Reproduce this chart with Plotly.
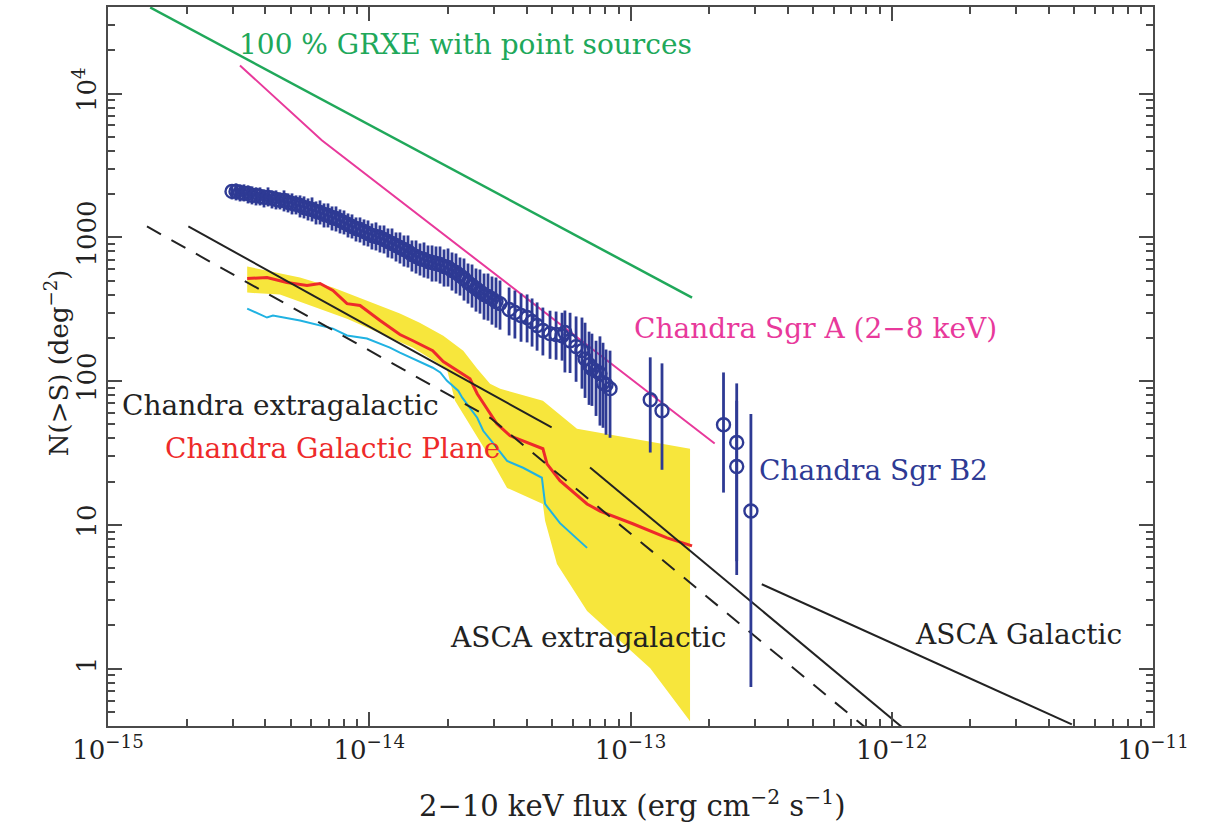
import math
import plotly.graph_objects as go

FONT = "DejaVu Serif"

# ---------------- data ----------------
# Chandra Sgr B2 logN-logS points with errors
sgrb2_x = [2.983e-15, 3.090e-15, 3.201e-15, 3.316e-15, 3.435e-15, 3.558e-15, 3.686e-15, 3.818e-15,
           3.955e-15, 4.097e-15, 4.244e-15, 4.396e-15, 4.554e-15, 4.717e-15, 4.887e-15, 5.062e-15,
           5.244e-15, 5.432e-15, 5.627e-15, 5.829e-15, 6.038e-15, 6.255e-15, 6.479e-15, 6.712e-15,
           6.952e-15, 7.202e-15, 7.460e-15, 7.728e-15, 8.005e-15, 8.292e-15, 8.590e-15, 8.898e-15,
           9.217e-15, 9.548e-15, 9.890e-15, 1.024e-14, 1.061e-14, 1.099e-14, 1.139e-14, 1.179e-14,
           1.222e-14, 1.266e-14, 1.311e-14, 1.358e-14, 1.407e-14, 1.457e-14, 1.510e-14, 1.564e-14,
           1.620e-14, 1.678e-14, 1.739e-14, 1.801e-14, 1.866e-14, 1.933e-14, 2.002e-14, 2.074e-14,
           2.148e-14, 2.225e-14, 2.305e-14, 2.388e-14, 2.474e-14, 2.562e-14, 2.654e-14, 2.750e-14,
           2.848e-14, 2.950e-14, 3.056e-14, 3.166e-14,
           3.43e-14, 3.61e-14, 3.81e-14, 4.02e-14, 4.20e-14, 4.39e-14, 4.62e-14, 4.92e-14,
           5.19e-14, 5.47e-14,
           5.61e-14, 5.87e-14, 6.19e-14, 6.52e-14, 6.70e-14, 6.94e-14, 7.12e-14, 7.38e-14,
           7.64e-14, 7.85e-14, 8.06e-14, 8.35e-14,
           1.19e-13, 1.32e-13, 2.27e-13, 2.55e-13, 2.55e-13, 2.89e-13]
sgrb2_y = [2088, 2088, 2055, 2022, 2022, 1958, 1958, 1927,
           1896, 1896, 1866, 1836, 1807, 1807, 1750, 1722,
           1695, 1668, 1615, 1589, 1564, 1515, 1491, 1444,
           1421, 1376, 1354, 1311, 1270, 1230, 1191, 1153,
           1135, 1099, 1065, 1031, 1015, 998.6, 967.1, 936.6,
           907.0, 878.4, 850.7, 823.8, 797.8, 760.3, 736.3, 713.1,
           701.7, 679.6, 668.8, 658.1, 647.6, 627.2, 617.2, 588.2,
           569.6, 542.8, 517.3, 485.2, 462.4, 440.7, 419.9, 400.2,
           387.6, 375.3, 357.7, 346.4,
           315, 300, 286, 277, 260, 244, 225, 214,
           211, 207,
           218, 191, 174, 163, 143, 130, 122, 118,
           113, 97.6, 94.5, 88.7,
           74.3, 62.3, 49.8, 37.5, 25.5, 12.5]
sgrb2_hi = [2336, 2374, 2336, 2336, 2299, 2262, 2226, 2226,
            2156, 2226, 2122, 2122, 2055, 2122, 2022, 2022,
            1958, 1958, 1927, 1866, 1896, 1778, 1807, 1722,
            1722, 1641, 1641, 1564, 1539, 1467, 1444, 1376,
            1376, 1333, 1311, 1250, 1270, 1210, 1210, 1153,
            1153, 1082, 1082, 1031, 1031, 951.7, 951.7, 907.0,
            921.7, 878.4, 878.4, 864.4, 864.4, 823.8, 837.1, 785.1,
            772.6, 724.6, 713.1, 658.1, 647.6, 607.4, 597.7, 560.5,
            560.5, 534.2, 525.7, 501.0,
            448, 427, 407, 401, 376, 353, 325, 309,
            305, 299,
            310, 299, 282, 277, 255, 221, 214, 191,
            205, 185, 166, 163,
            146.5, 133, 115, 96.5, 73.1, 59.1]
sgrb2_lo = [1836, 1807, 1778, 1778, 1722, 1695, 1668, 1668,
            1615, 1641, 1589, 1564, 1564, 1515, 1491, 1444,
            1444, 1376, 1354, 1311, 1290, 1230, 1230, 1172,
            1172, 1117, 1099, 1065, 1048, 998.6, 982.7, 936.6,
            921.7, 878.4, 864.4, 823.8, 810.7, 785.1, 772.6, 724.6,
            713.1, 679.6, 658.1, 627.2, 617.2, 578.8, 560.5, 542.8,
            525.7, 517.3, 493.0, 493.0, 477.4, 455.0, 455.0, 426.7,
            406.7, 393.8, 363.5, 346.4, 324.9, 304.7, 295.0, 268.0,
            263.7, 247.3, 235.7, 228.2,
            208, 198, 188, 186, 174, 163, 151, 143,
            141, 139,
            115, 114, 99, 88.7, 76.5, 68.4, 67.3, 57.3,
            49.1, 47.4, 42.4, 40.4,
            31.9, 24.2, 16.8, 4.49, 5.6, 0.746]

# 100 % GRXE with point sources
grxe_x = [1.45e-15, 1.72e-13]
grxe_y = [39700, 381]

# Chandra Sgr A (2-8 keV)
sgra_x = [3.2e-15, 6.58e-15, 2.1e-13]
sgra_y = [15700, 4730, 36.9]

# Chandra extragalactic (dashed, broken power law)
cxgal_x = [1.41e-15, 2.92e-14, 7.87e-13]
cxgal_y = [1191, 55.2, 0.395]

# solid extragalactic lines
xgal1_x = [2.03e-15, 4.99e-14]
xgal1_y = [1191, 47.7]
ascax_x = [7.0e-14, 1.09e-12]
ascax_y = [25.1, 0.395]

# ASCA Galactic
ascag_x = [3.18e-13, 4.89e-12]
ascag_y = [3.87, 0.41]

# Chandra Galactic Plane (red)
gp_x = [3.41e-15, 4.06e-15, 4.84e-15, 5.78e-15, 6.48e-15, 7.26e-15, 8.22e-15, 9.22e-15,
        1.10e-14, 1.31e-14, 1.47e-14, 1.75e-14, 1.92e-14, 2.43e-14, 2.59e-14, 3.08e-14,
        3.46e-14, 4.12e-14, 4.62e-14, 4.79e-14, 5.37e-14, 6.82e-14, 7.64e-14, 1.02e-13,
        1.38e-13, 1.72e-13]
gp_y = [517, 526, 485, 462, 478, 427, 346, 336,
        264, 211, 191, 163, 137, 104, 81.8, 50.6,
        41.7, 36.7, 33.9, 26.6, 20.3, 14.0, 12.5, 10.2,
        8.13, 7.15]

# cyan curve
cy_x = [3.41e-15, 4.06e-15, 4.28e-15, 5.43e-15, 7.26e-15, 8.22e-15, 9.80e-15, 1.20e-14,
        1.31e-14, 1.52e-14, 1.75e-14, 1.87e-14, 1.98e-14, 2.19e-14, 2.27e-14, 2.59e-14,
        2.73e-14, 3.08e-14, 3.37e-14, 3.88e-14, 4.58e-14, 4.71e-14, 5.37e-14, 6.82e-14]
cy_y = [320, 277, 286, 264, 232, 208, 198, 171,
        158, 139, 124, 115, 101, 85.9, 76.8, 55.7,
        45.2, 34.4, 27.9, 25.0, 21.3, 14.0, 10.3, 6.93]

# yellow uncertainty band
band_up_x = [3.41e-15, 4.06e-15, 5.43e-15, 7.26e-15, 9.80e-15, 1.31e-14, 1.56e-14, 1.92e-14,
             2.29e-14, 2.59e-14, 2.90e-14, 3.17e-14, 4.62e-14, 6.24e-14, 1.69e-13]
band_up_y = [627, 588, 526, 448, 364, 295, 255, 207,
             163, 122, 96.1, 88.7, 73.1, 46.7, 33.9]
band_lo_x = [3.41e-15, 4.55e-15, 8.22e-15, 1.47e-14, 1.98e-14, 2.13e-14, 2.43e-14, 2.90e-14,
             3.37e-14, 4.62e-14, 4.71e-14, 5.23e-14, 6.82e-14, 8.88e-14, 1.19e-13, 1.69e-13]
band_lo_y = [413, 400, 272, 171, 122, 73.1, 49.0, 29.3,
             18.1, 14.0, 10.7, 5.36, 2.52, 1.64, 1.01, 0.432]

# axis ticks
x_tickvals = [1e-15, 1e-14, 1e-13, 1e-12, 1e-11]
x_ticktext = ["10<sup>\u221215</sup>", "10<sup>\u221214</sup>", "10<sup>\u221213</sup>",
              "10<sup>\u221212</sup>", "10<sup>\u221211</sup>"]
y_tickvals = [1, 10, 100, 1000, 1e4]
y_ticktext = ["1", "10", "100", "1000", "10<sup>4</sup>"]

# ---------------- colours ----------------
GREEN = "#20a85a"
MAGENTA = "#e8399b"
NAVY = "#2e3a94"
RED = "#ee2a2a"
CYAN = "#20b2e2"
YELLOW = "#f7e63c"
BLACK = "#222222"
AXIS = "#4a4a4a"

fig = go.Figure()

fig.add_trace(go.Scatter(
    x=band_up_x + band_lo_x[::-1], y=band_up_y + band_lo_y[::-1],
    fill="toself", fillcolor=YELLOW, line=dict(width=0), mode="lines", hoverinfo="skip"))

fig.add_trace(go.Scatter(x=cy_x, y=cy_y, mode="lines", line=dict(color=CYAN, width=2)))
fig.add_trace(go.Scatter(x=gp_x, y=gp_y, mode="lines", line=dict(color=RED, width=3)))
fig.add_trace(go.Scatter(x=cxgal_x, y=cxgal_y, mode="lines",
                         line=dict(color=BLACK, width=2, dash="16px,12px")))
fig.add_trace(go.Scatter(x=xgal1_x, y=xgal1_y, mode="lines", line=dict(color=BLACK, width=2)))
fig.add_trace(go.Scatter(x=ascax_x, y=ascax_y, mode="lines", line=dict(color=BLACK, width=2)))
fig.add_trace(go.Scatter(x=ascag_x, y=ascag_y, mode="lines", line=dict(color=BLACK, width=2)))
fig.add_trace(go.Scatter(x=grxe_x, y=grxe_y, mode="lines", line=dict(color=GREEN, width=2.5)))
fig.add_trace(go.Scatter(x=sgra_x, y=sgra_y, mode="lines", line=dict(color=MAGENTA, width=2)))

fig.add_trace(go.Scatter(
    x=sgrb2_x, y=sgrb2_y, mode="markers",
    marker=dict(symbol="circle-open", size=13, color=NAVY, line=dict(width=2.4, color=NAVY)),
    error_y=dict(type="data", symmetric=False,
                 array=[h - v for h, v in zip(sgrb2_hi, sgrb2_y)],
                 arrayminus=[v - l for v, l in zip(sgrb2_y, sgrb2_lo)],
                 color=NAVY, thickness=2.8, width=0)))

# ---------------- labels ----------------
labels = [
    ("100 % GRXE with point sources", 3.12e-15, 22040, GREEN),
    ("Chandra Sgr A (2\u22128 keV)", 1.015e-13, 232, MAGENTA),
    ("Chandra extragalactic", 1.11e-15, 67.5, BLACK),
    ("Chandra Galactic Plane", 1.63e-15, 33.9, RED),
    ("Chandra Sgr B2", 3.05e-13, 23.8, NAVY),
    ("ASCA extragalactic", 2.0e-14, 1.66, BLACK),
    ("ASCA Galactic", 1.205e-12, 1.72, BLACK),
]
for txt, lx, ly, col in labels:
    fig.add_annotation(x=math.log10(lx), y=math.log10(ly), xref="x", yref="y",
                       text=txt, showarrow=False, xanchor="left", yanchor="middle",
                       font=dict(family=FONT, size=28, color=col))

# axis titles
fig.add_annotation(x=-0.067, y=0.506, xref="paper", yref="paper",
                   text="N(>S) (deg<sup>\u22122</sup>)", textangle=-90, showarrow=False,
                   font=dict(family=FONT, size=26, color=BLACK))
fig.add_annotation(x=0.5015, y=-0.108, xref="paper", yref="paper",
                   text="2\u221210 keV flux (erg cm<sup>\u22122</sup> s<sup>\u22121</sup>)",
                   showarrow=False, yanchor="middle",
                   font=dict(family=FONT, size=29, color=BLACK))

x_minor = [m * 10.0 ** e for e in range(-15, -11) for m in range(2, 10)]
y_minor = [m * 10.0 ** e for e in range(-1, 5) for m in range(2, 10)]

axis_common = dict(
    type="log", showgrid=False, zeroline=False, showline=True, linewidth=2,
    linecolor=AXIS, mirror="ticks", ticks="inside", ticklen=14, tickwidth=2,
    tickcolor=AXIS, tickmode="array", automargin=False,
    tickfont=dict(family=FONT, size=26, color=BLACK),
)

fig.update_xaxes(**axis_common, range=[-15, -11], tickvals=x_tickvals, ticktext=x_ticktext,
                 minor=dict(ticks="inside", ticklen=7, tickwidth=1.5, tickcolor=AXIS,
                            tickvals=x_minor, showgrid=False))
fig.update_yaxes(**axis_common, range=[math.log10(0.4), math.log10(4e4)],
                 tickvals=y_tickvals, ticktext=y_ticktext, tickangle=-90,
                 minor=dict(ticks="inside", ticklen=7, tickwidth=1.5, tickcolor=AXIS,
                            tickvals=y_minor, showgrid=False))

fig.update_layout(width=1211, height=823, margin=dict(l=108, r=58, t=7, b=97),
                  plot_bgcolor="white", paper_bgcolor="white", showlegend=False)

fig.write_html("out.html")
